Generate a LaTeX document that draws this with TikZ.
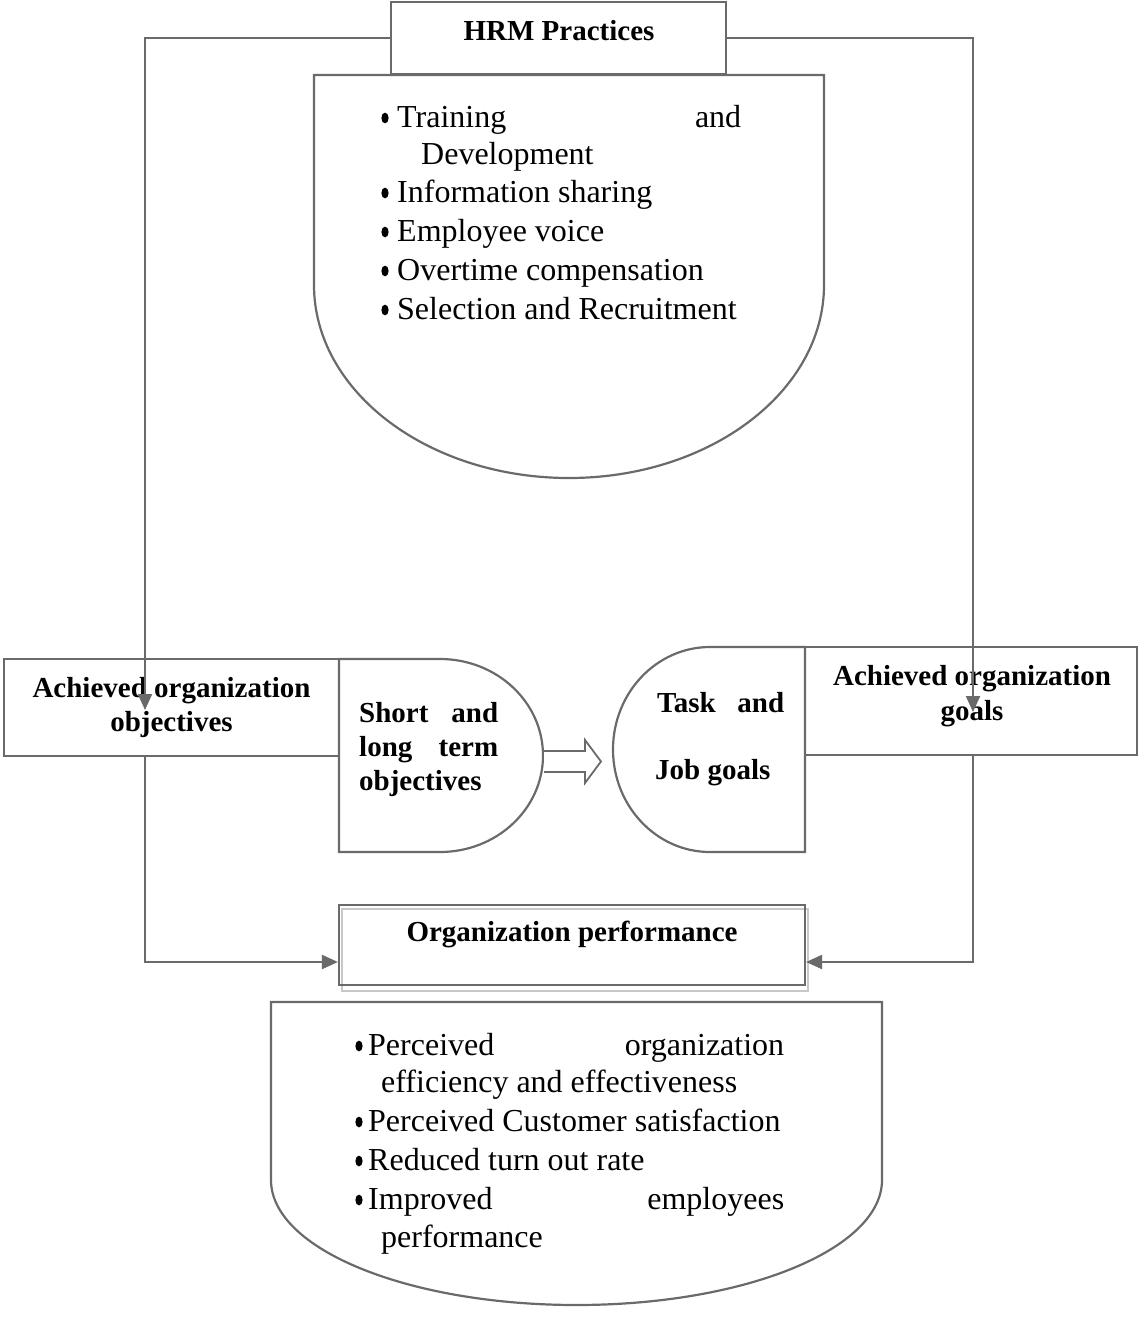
\documentclass[tikz,border=0pt]{standalone}
\usepackage{fontspec}
\setmainfont{Liberation Serif}
\usetikzlibrary{arrows.meta,calc}
\definecolor{lgray}{HTML}{6A6A6A}
\definecolor{shgray}{HTML}{C8C8C8}
\begin{document}
\begin{tikzpicture}[x=1pt,y=1pt,
  ln/.style={draw=lgray, line width=2.2pt},
  conn/.style={draw=lgray, line width=2.2pt, -{Triangle[length=16pt,width=14pt]}},
  box/.style={draw=lgray, line width=2.2pt, rectangle, inner sep=0pt},
  bulletdot/.style={fill=black},
  reg/.style={inner sep=0pt, anchor=base west, font=\fontsize{32}{38}\selectfont},
  bld/.style={inner sep=0pt, anchor=base, font=\fontsize{29}{34}\selectfont\bfseries},
  bldw/.style={bld, anchor=base west}]
\useasboundingbox (0,0) rectangle (1138,-1317);

% top rounded shape
\draw[ln] (314,-75) -- (314,-285) arc[start angle=180,end angle=360,x radius=255,y radius=193] -- (824,-75) -- cycle;
% bottom rounded shape
\draw[ln] (271,-1002) -- (271,-1180) arc[start angle=180,end angle=360,x radius=305.5,y radius=125] -- (882,-1002) -- cycle;
% short and long term shape
\draw[ln] (339,-659) -- (440,-659) arc[start angle=90,end angle=-90,x radius=103,y radius=96.5] -- (339,-852) -- cycle;
% task and job shape
\draw[ln] (805,-647) -- (710,-647) arc[start angle=90,end angle=270,x radius=97,y radius=102.5] -- (805,-852) -- cycle;
% hollow arrow
\draw[ln, line width=1.8pt, fill=white] (544,-751) -- (585,-751) -- (585,-740) -- (601,-761.5) -- (585,-783) -- (585,-772) -- (544,-772);

% boxes
\node[box, minimum width=335pt, minimum height=72pt] (hrm) at (558.5,-38) {};
\node[box, minimum width=335pt, minimum height=97pt] (lbox) at (171.5,-707.5) {};
\node[box, minimum width=332pt, minimum height=108pt] (rbox) at (971,-701) {};
\draw[shgray, line width=2pt] (342,-909) rectangle (808,-991);
\node[box, minimum width=466pt, minimum height=80pt] (perf) at (572,-945) {};

% bullets
\foreach \yy in {118,193,232,271,310} \fill[bulletdot] (385,-\yy) ellipse (3.6 and 5.4);
\foreach \yy in {1046,1122,1161,1200} \fill[bulletdot] (359,-\yy) ellipse (3.6 and 5.4);

% texts
\node[bld] (thrm) at (559,-40) {HRM Practices};
\node[reg] (t1) at (397,-127) {\hbox to 344pt{Training\hfill and}};
\node[reg] (t2) at (421,-164) {Development};
\node[reg] (t3) at (397,-202) {Information sharing};
\node[reg] (t4) at (397,-241) {Employee voice};
\node[reg] (t5) at (397,-280) {Overtime compensation};
\node[reg] (t6) at (397,-319) {Selection and Recruitment};

\node[bld] (l1) at (171.5,-697) {Achieved organization};
\node[bld] (l2) at (171.5,-731) {objectives};
\node[bldw] (s1) at (359,-722) {\hbox to 139pt{Short\hfill and}};
\node[bldw] (s2) at (359,-756) {\hbox to 139pt{long\hfill term}};
\node[bldw] (s3) at (359,-790) {objectives};
\node[bldw] (j1) at (657,-712) {\hbox to 127pt{Task\hfill and}};
\node[bldw] (j2) at (655,-779) {Job goals};
\node[bld] (r1) at (972,-685) {Achieved organization};
\node[bld] (r2) at (972,-720) {goals};
\node[bld] (tperf) at (572,-941) {Organization performance};

\node[reg] (b1) at (368,-1055) {\hbox to 416pt{Perceived\hfill organization}};
\node[reg] (b2) at (381,-1092) {efficiency and effectiveness};
\node[reg] (b3) at (368,-1131) {Perceived Customer satisfaction};
\node[reg] (b4) at (368,-1170) {Reduced turn out rate};
\node[reg] (b5) at (368,-1209) {\hbox to 416pt{Improved\hfill employees}};
\node[reg] (b6) at (381,-1247) {performance};

% connectors
\coordinate (ltip) at (145,-710);
\coordinate (rtip) at (973,-712);
\draw[conn] (hrm.west) -| (ltip);
\draw[conn] (hrm.east) -| (rtip);
\draw[conn] (lbox.south -| ltip) |- ([yshift=-17pt]perf.west);
\draw[conn] (rbox.south -| rtip) |- ([yshift=-17pt]perf.east);
\end{tikzpicture}
\end{document}
